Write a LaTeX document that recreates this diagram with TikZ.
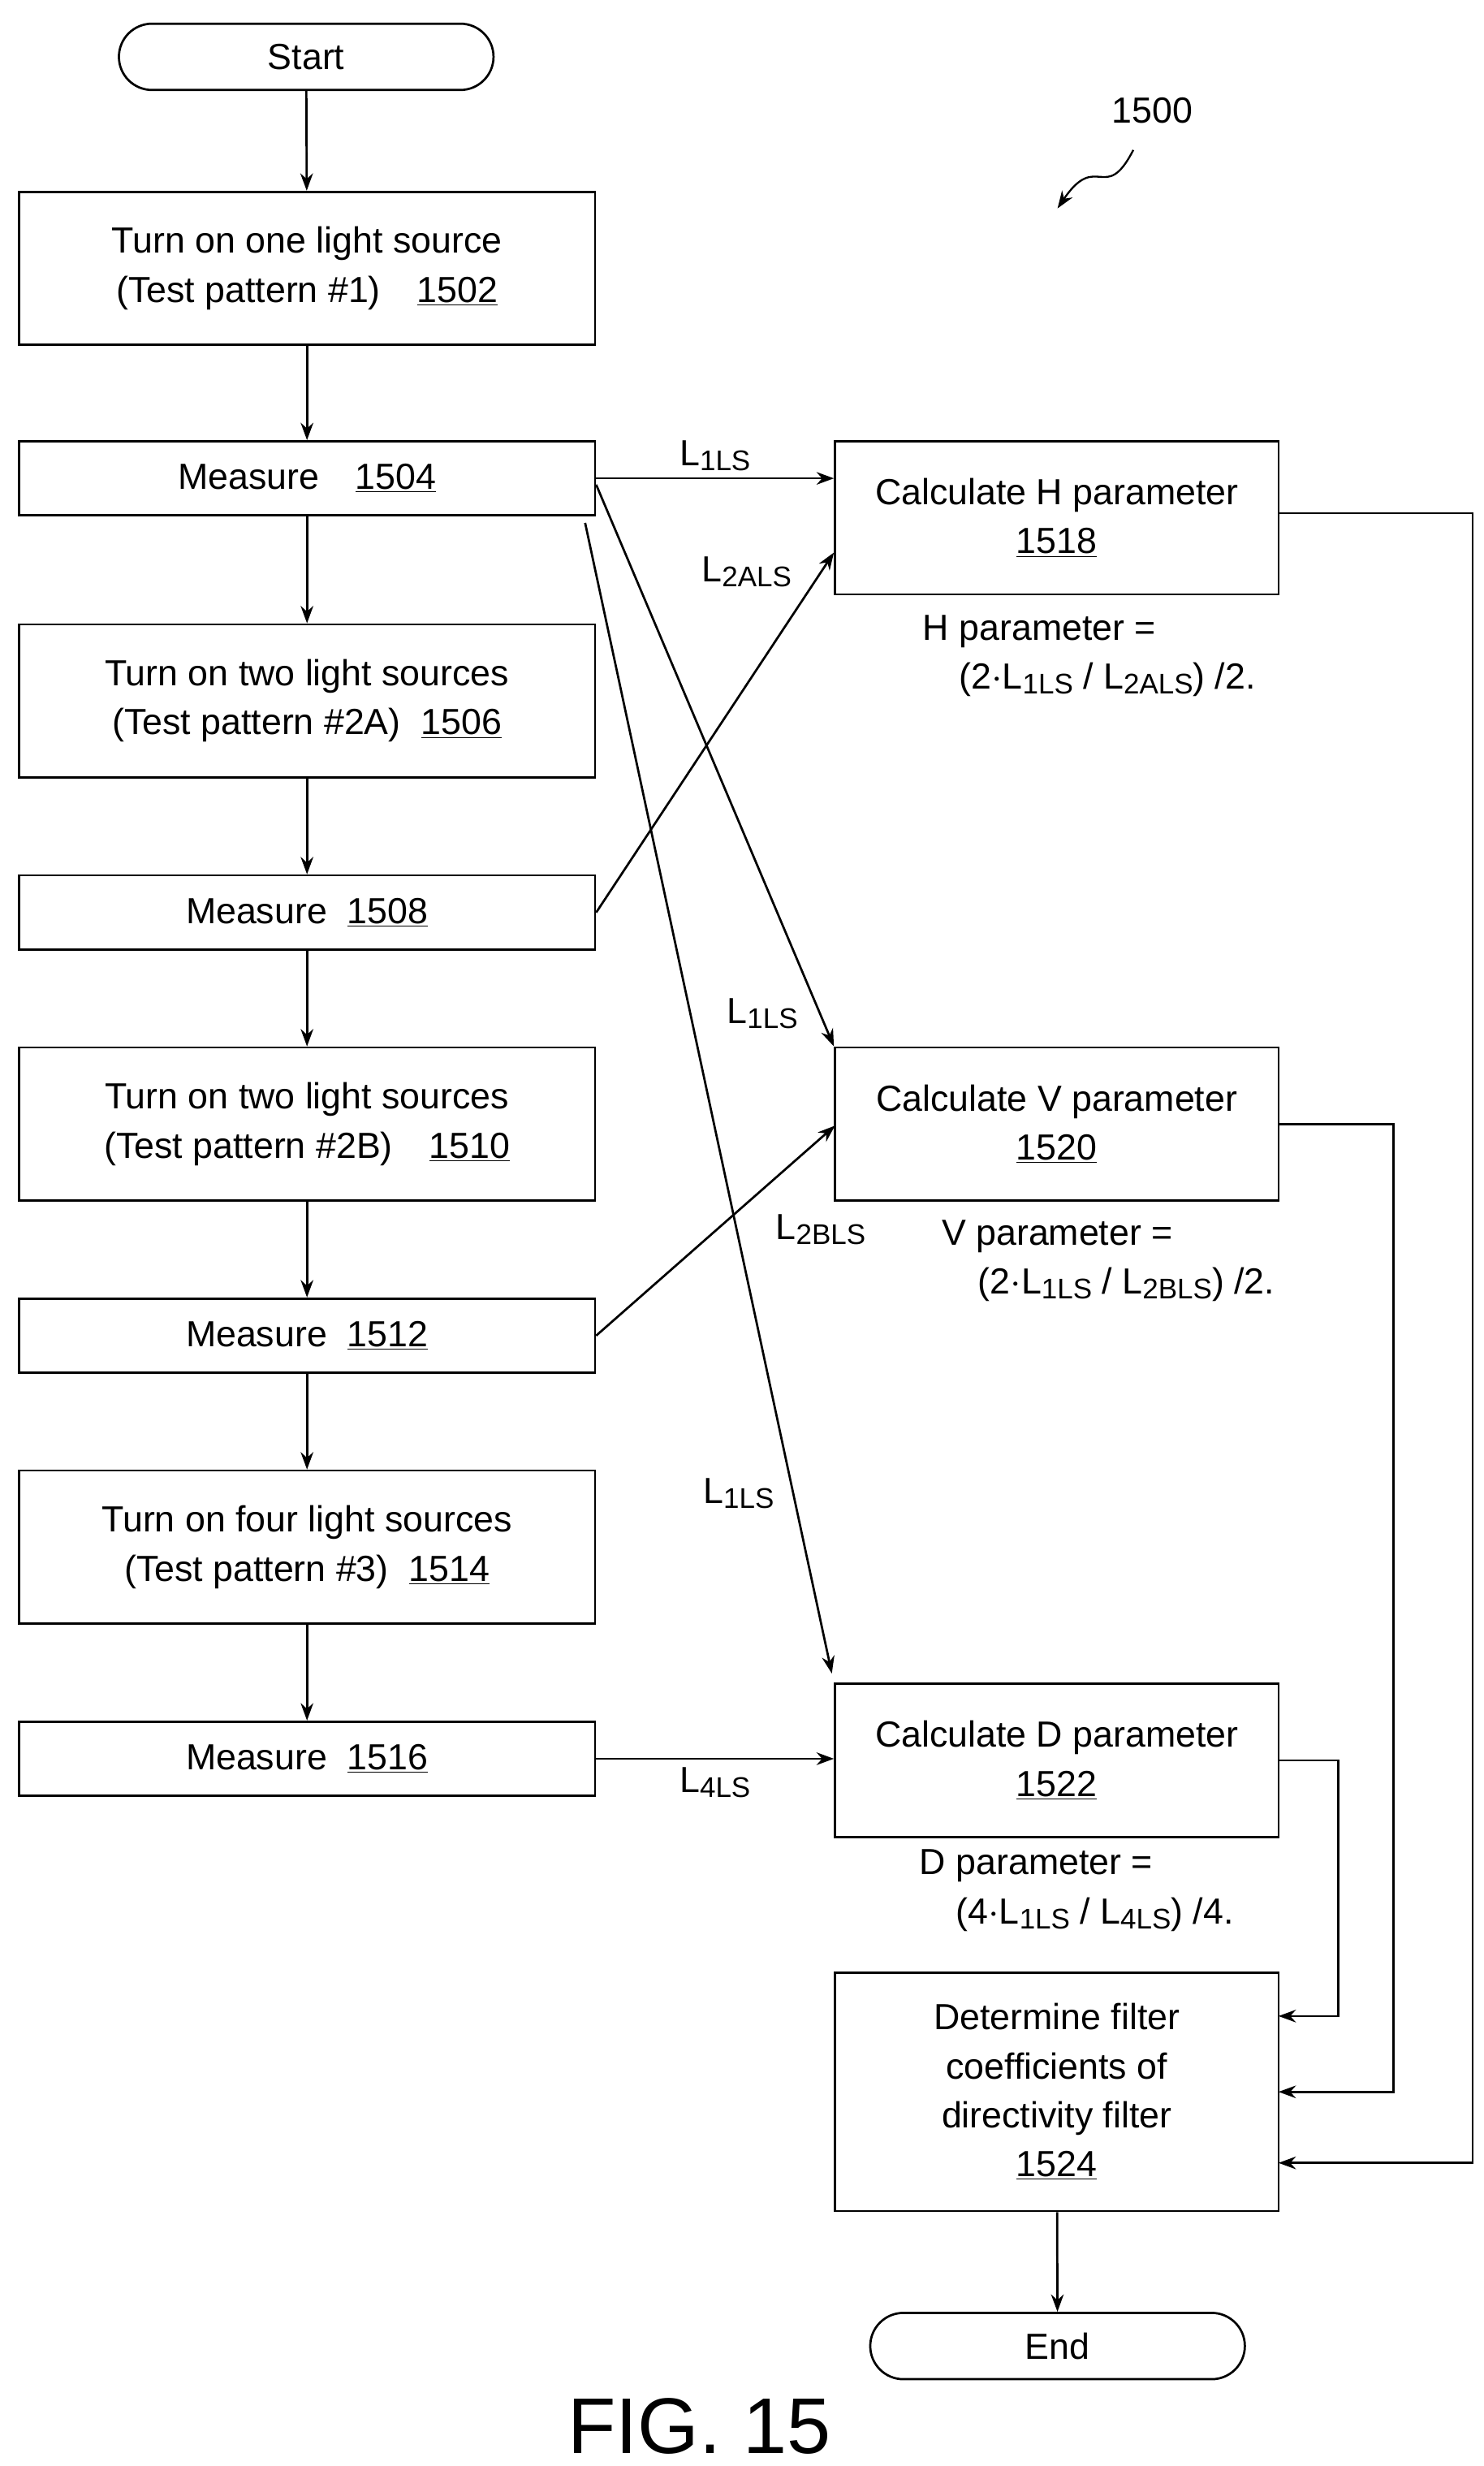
\documentclass[tikz,border=0pt]{standalone}
\usepackage{fontspec}
\setmainfont{Liberation Sans}
\usetikzlibrary{arrows.meta,shapes.misc}
\newcommand{\Lsub}[1]{L\raisebox{-0.25ex}{\fontsize{18}{20}\selectfont #1}}
\begin{document}
\begin{tikzpicture}[
x=1pt,y=-1pt,
font=\fontsize{23}{31}\selectfont,
>={Stealth[length=11pt,width=8pt]},
line width=1.4pt
]
\tikzstyle{c} = [draw, shape=rectangle, minimum width=365pt, align=center]
\tikzstyle{r} = [draw, shape=rectangle, minimum width=281pt, align=center]
\tikzstyle{t} = [draw, rounded rectangle, minimum width=244pt, minimum height=42pt]
\tikzstyle{lbl} = [inner sep=1pt]

\useasboundingbox (0,0) rectangle (940,1562);

% left column
\node[t] (start) at (194,36) {Start};
\node[c, minimum height=97pt] (s1502) at (194.5,170) {Turn on one light source\\(Test pattern \#1)\quad\underline{1502}};
\node[c, minimum height=47pt] (s1504) at (194.5,303) {Measure\quad\underline{1504}};
\node[c, minimum height=97pt] (s1506) at (194.5,444) {Turn on two light sources\\(Test pattern \#2A)\ \ \underline{1506}};
\node[c, minimum height=47pt] (s1508) at (194.5,578) {Measure\ \ \underline{1508}};
\node[c, minimum height=97pt] (s1510) at (194.5,712) {Turn on two light sources\\(Test pattern \#2B)\quad\underline{1510}};
\node[c, minimum height=47pt] (s1512) at (194.5,846) {Measure\ \ \underline{1512}};
\node[c, minimum height=97pt] (s1514) at (194.5,980) {Turn on four light sources\\(Test pattern \#3)\ \ \underline{1514}};
\node[c, minimum height=47pt] (s1516) at (194.5,1114) {Measure\ \ \underline{1516}};

% right column
\node[r, minimum height=97pt] (s1518) at (669.5,328) {Calculate H parameter\\\underline{1518}};
\node[r, minimum height=97pt] (s1520) at (669.5,712) {Calculate V parameter\\\underline{1520}};
\node[r, minimum height=97pt] (s1522) at (669.5,1115) {Calculate D parameter\\\underline{1522}};
\node[r, minimum height=151pt] (s1524) at (669.5,1325) {Determine filter\\coefficients of\\directivity filter\\\underline{1524}};
\node[t] (end) at (670,1486) {End};

% formulas
\node[lbl, align=left, anchor=north west] (fH) at (583,388) {H parameter =\\\quad(2$\cdot$\Lsub{1LS} / \Lsub{2ALS}) /2.};
\node[lbl, align=left, anchor=north west] (fV) at (595,771) {V parameter =\\\quad(2$\cdot$\Lsub{1LS} / \Lsub{2BLS}) /2.};
\node[lbl, align=left, anchor=north west] (fD) at (581,1170) {D parameter =\\\quad(4$\cdot$\Lsub{1LS} / \Lsub{4LS}) /4.};

% reference
\node[lbl] (ref) at (730,70) {1500};
\coordinate (refa) at (718,95);
\coordinate (refb) at (670,132);
\draw[->, line width=1.2pt] (refa) .. controls (700,130) and (695,95) .. (refb);

\node[font=\fontsize{50}{55}\selectfont] (fig) at (443,1537) {FIG. 15};

% vertical flow
\foreach \a/\b in {start/s1502,s1502/s1504,s1504/s1506,s1506/s1508,s1508/s1510,s1510/s1512,s1512/s1514,s1514/s1516,s1524/end}
  \draw[->] (\a) -- (\b);

% measurements
\draw[->] (s1504.east) -- node[lbl, above=3pt] {\Lsub{1LS}} (s1504.east -| s1518.west);
\draw[->] (s1508.east) -- (s1518.south west |- 0,350);
\node[lbl] (l2a) at (473,362) {\Lsub{2ALS}};
\draw[->] ([yshift=-4pt]s1504.east) -- (s1520.north west);
\node[lbl] (l1b) at (483,642) {\Lsub{1LS}};
\draw[->] (s1512.east) -- (529,713);
\node[lbl] (l2b) at (520,779) {\Lsub{2BLS}};
\draw[->] ([xshift=-7pt,yshift=-4pt]s1504.south east) -- (527,1060);
\node[lbl] (l1d) at (468,946) {\Lsub{1LS}};
\draw[->] (s1516.east) -- node[lbl, below=4pt] {\Lsub{4LS}} (s1516.east -| s1522.west);

% to determine
\draw[->] (810,325) -- (933,325) -- (933,1370) -- (810,1370);
\draw[->] (s1520.east) -- (883,712) -- (883,1325) -- (810,1325);
\draw[->] (s1522.east) -- (848,1115) -- (848,1277) -- (810,1277);
\end{tikzpicture}
\end{document}
